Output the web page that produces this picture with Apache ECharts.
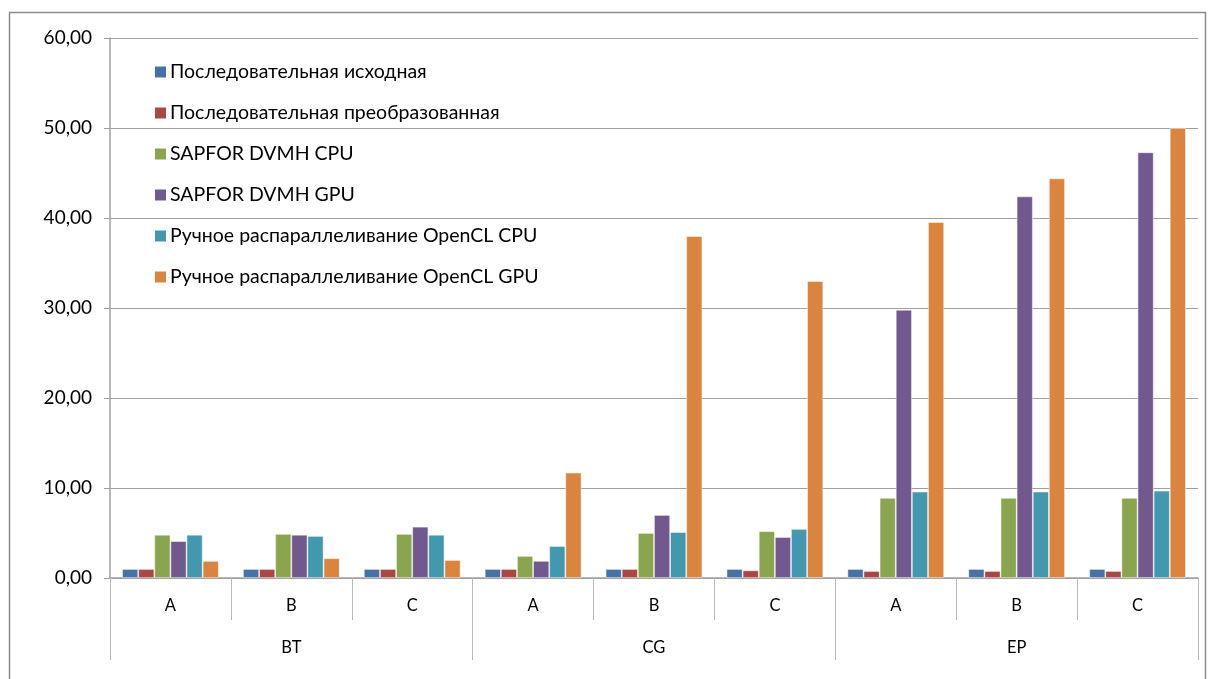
<!DOCTYPE html>
<html><head><meta charset="utf-8">
<script src="https://cdn.jsdelivr.net/npm/echarts@6/dist/echarts.min.js"></script>
<style>html,body{margin:0;padding:0;background:#fff}#c{width:1208px;height:679px}</style>
</head><body><div id="c"></div>
<script>
const subCategories = ['A','B','C','A','B','C','A','B','C'];
const groups = ['BT','CG','EP'];
const seriesNames = ['Последовательная исходная','Последовательная преобразованная','SAPFOR DVMH CPU','SAPFOR DVMH GPU','Ручное распараллеливание OpenCL CPU','Ручное распараллеливание OpenCL GPU'];
const seqOrig   = [1.0, 1.0, 1.0, 1.0, 1.0, 1.0, 1.0, 1.0, 1.0];
const seqTrans  = [1.0, 1.0, 1.0, 1.0, 1.0, 0.85, 0.78, 0.78, 0.78];
const dvmhCpu   = [4.8, 4.9, 4.9, 2.45, 5.0, 5.2, 8.9, 8.9, 8.9];
const dvmhGpu   = [4.1, 4.8, 5.7, 1.9, 7.0, 4.55, 29.8, 42.4, 47.3];
const openclCpu = [4.8, 4.67, 4.8, 3.55, 5.1, 5.45, 9.6, 9.6, 9.7];
const openclGpu = [1.9, 2.2, 2.0, 11.7, 38.0, 33.0, 39.55, 44.4, 50.0];
const yTicks = [0,10,20,30,40,50,60];

const colors = ['#4572A7','#AA4643','#89A54E','#71588F','#4198AF','#DB843D'];
const allData = [seqOrig, seqTrans, dvmhCpu, dvmhGpu, openclCpu, openclGpu];
const font = 'Lato';
const chart = echarts.init(document.getElementById('c'));
chart.setOption({
  animation:false,
  color:colors,
  graphic:[{type:'rect',shape:{x:9.5,y:12.5,width:1196,height:700},style:{fill:'none',stroke:'#8c8c8c',lineWidth:1.5},z:-1}],
  grid:{left:110,right:10,top:38,bottom:101,containLabel:false},
  legend:{orient:'vertical',left:150,top:57,itemWidth:11,itemHeight:11,itemGap:21,itemStyle:{borderWidth:0},
    data:seriesNames,textStyle:{fontFamily:font,fontSize:19.5,color:'#000',lineHeight:20,padding:[0,0,0,-1]},icon:'rect'},
  xAxis:[{type:'category',data:subCategories,position:'bottom',
      axisLine:{show:true,lineStyle:{color:'#a0a0a0',width:1.5}},
      axisTick:{show:true,length:42,lineStyle:{color:'#b8b8b8'}},
      axisLabel:{show:true,margin:19,fontFamily:font,fontSize:16.5,color:'#000'}},
    {type:'category',data:groups,position:'bottom',offset:0,
      axisLine:{show:false},
      axisTick:{show:true,length:82,lineStyle:{color:'#b8b8b8'}},
      axisLabel:{show:true,margin:61,fontFamily:font,fontSize:16.5,color:'#000'}}],
  yAxis:{type:'value',min:0,max:60,interval:10,
    axisLine:{show:true,lineStyle:{color:'#a0a0a0',width:1.5}},
    axisTick:{show:true,length:6,lineStyle:{color:'#a0a0a0'}},
    splitLine:{lineStyle:{color:'#a0a0a0',width:1.2}},
    axisLabel:{margin:18,fontFamily:font,fontSize:19,color:'#000',
      formatter:v=>yTicks.includes(v)?v.toFixed(2).replace('.',','):''}},
  series: seriesNames.map((n,i)=>({name:n,type:'bar',xAxisIndex:0,data:allData[i],
    barGap:'0%',barCategoryGap:'20%',
    itemStyle:{color:colors[i],borderColor:'rgba(255,255,255,0.6)',borderWidth:0.8}}))
});
</script></body></html>
